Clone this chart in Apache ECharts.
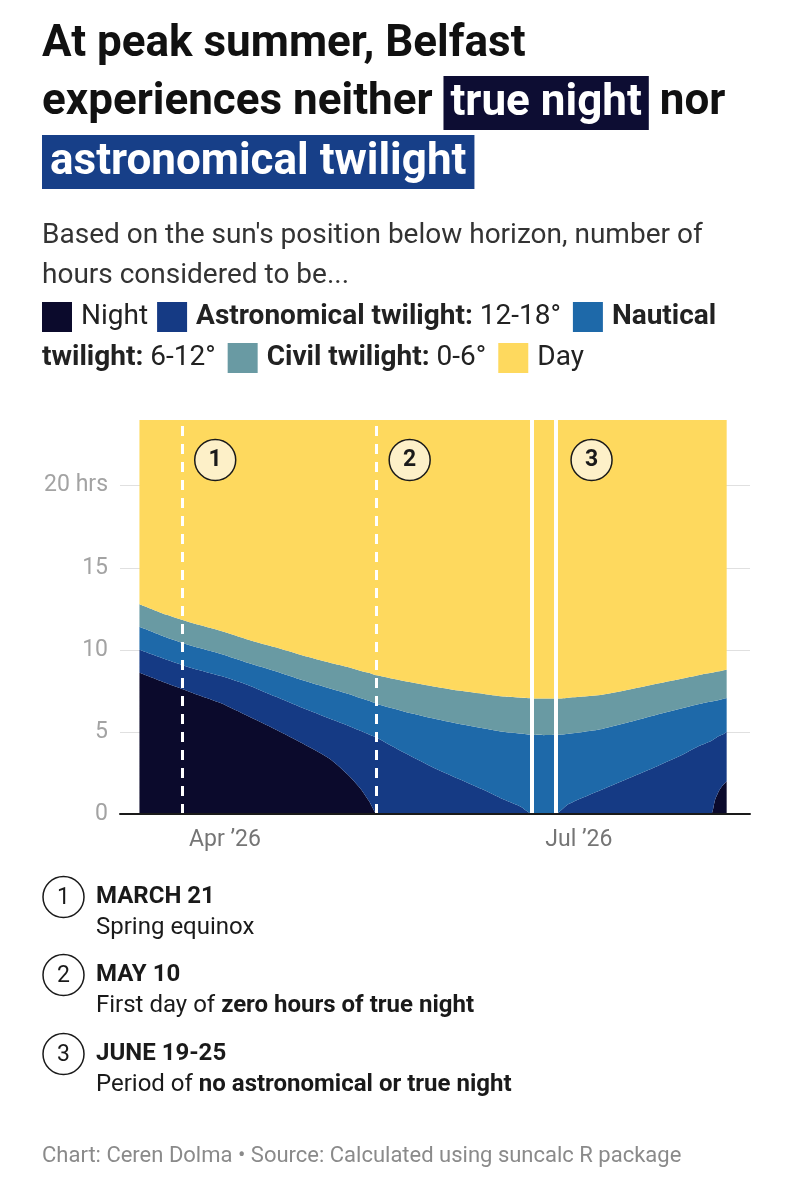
<!DOCTYPE html>
<html>
<head>
<meta charset="utf-8">
<script src="https://cdn.jsdelivr.net/npm/echarts@6/dist/echarts.min.js"></script>
<style>
html, body { margin: 0; padding: 0; background: #fff; }
#chart { width: 790px; height: 1200px; }
</style>
</head>
<body>
<div id="chart"></div>
<script>
// hours per day in each band (Belfast, 2026)
var dates = ['2026-03-10','2026-03-17','2026-03-24','2026-03-31','2026-04-07','2026-04-14','2026-04-21','2026-04-28',
  '2026-05-03','2026-05-06','2026-05-08','2026-05-09','2026-05-10','2026-05-17','2026-05-24','2026-05-31',
  '2026-06-07','2026-06-12','2026-06-16','2026-06-19','2026-06-22','2026-06-25','2026-06-28','2026-07-02',
  '2026-07-07','2026-07-14','2026-07-21','2026-07-28','2026-08-01','2026-08-04','2026-08-05','2026-08-06',
  '2026-08-07','2026-08-08'];
var night = [8.6, 7.96, 7.34, 6.74, 5.95, 5.15, 4.3, 3.35, 2.3, 1.5, 0.8, 0.35, 0,
  0, 0, 0, 0, 0, 0, 0, 0, 0, 0, 0, 0, 0, 0, 0, 0, 0,
  0.85, 1.4, 1.75, 2.0];
var astronomical = [1.4, 1.44, 1.51, 1.66, 1.9, 2.0, 2.15, 2.45, 3.05, 3.55, 4.05, 4.4, 4.65,
  3.75, 2.9, 2.15, 1.42, 0.85, 0.45, 0, 0, 0, 0.55, 1.0, 1.5, 2.2, 2.9, 3.65, 4.15, 4.45,
  3.75, 3.35, 3.1, 3.0];
var nautical = [1.4, 1.35, 1.35, 1.35, 1.35, 1.55, 1.7, 1.85, 1.95, 2.0, 2.05, 2.05, 2.05,
  2.5, 2.95, 3.35, 3.78, 4.15, 4.45, 4.82, 4.8, 4.82, 4.33, 4.0, 3.68, 3.4, 3.15, 2.82, 2.55, 2.4,
  2.3, 2.2, 2.15, 2.06];
var civil = [1.38, 1.38, 1.4, 1.4, 1.42, 1.45, 1.5, 1.56, 1.62, 1.66, 1.7, 1.72, 1.75,
  1.85, 1.95, 2.02, 2.1, 2.15, 2.18, 2.22, 2.23, 2.21, 2.19, 2.15, 2.08, 1.98, 1.88, 1.8, 1.77, 1.75,
  1.75, 1.74, 1.74, 1.73];
var day = [11.22, 11.87, 12.4, 12.85, 13.38, 13.85, 14.35, 14.79, 15.08, 15.29, 15.4, 15.48, 15.55,
  15.9, 16.2, 16.48, 16.7, 16.85, 16.92, 16.96, 16.97, 16.97, 16.93, 16.85, 16.74, 16.42, 16.07, 15.73, 15.53, 15.4,
  15.35, 15.31, 15.26, 15.21];

var yTicks = [0, 5, 10, 15, 20];
var eventDates = ['2026-03-21', '2026-05-10', '2026-06-19', '2026-06-25'];
var notes = [
  { num: '1', head: 'MARCH 21', text: 'Spring equinox' },
  { num: '2', head: 'MAY 10', text: 'First day of {b|zero hours of true night}' },
  { num: '3', head: 'JUNE 19-25', text: 'Period of {b|no astronomical or true night}' }
];

var FONT = 'Roboto, "Noto Sans", sans-serif';
var colors = {
  night: '#0b0a2c',
  astro: '#153a84',
  naut: '#1e69a9',
  civil: '#699aa3',
  day: '#fed95e'
};

function pairs(arr) {
  return dates.map(function (d, i) { return [d, arr[i]]; });
}

function band(name, arr, color) {
  return {
    name: name,
    type: 'line',
    stack: 'hrs',
    data: pairs(arr),
    symbol: 'none',
    smooth: 0.2,
    lineStyle: { width: 0 },
    areaStyle: { color: color, opacity: 1 },
    itemStyle: { color: color },
    silent: true
  };
}

var chart = echarts.init(document.getElementById('chart'));

var dayBand = band('Day', day, colors.day);
dayBand.markLine = {
  silent: true,
  symbol: ['none', 'none'],
  label: { show: false },
  data: [
    { xAxis: eventDates[0], lineStyle: { color: '#fff', width: 3, type: [10, 8] } },
    { xAxis: eventDates[1], lineStyle: { color: '#fff', width: 3, type: [10, 8] } },
    { xAxis: eventDates[2], lineStyle: { color: '#fff', width: 4, type: 'solid' } },
    { xAxis: eventDates[3], lineStyle: { color: '#fff', width: 4, type: 'solid' } }
  ]
};
dayBand.markPoint = {
  silent: true,
  symbol: 'circle',
  symbolSize: 41,
  itemStyle: { color: '#fdf0c8', borderColor: '#1a1a1a', borderWidth: 1.5 },
  label: { show: true, formatter: '{b}', color: '#1a1a1a', fontSize: 23, fontWeight: 'bold', fontFamily: FONT },
  data: [
    { name: '1', coord: [eventDates[0], 21.56], symbolOffset: [33, 0] },
    { name: '2', coord: [eventDates[1], 21.56], symbolOffset: [33, 0] },
    { name: '3', coord: [eventDates[3], 21.56], symbolOffset: [36, 0] }
  ]
};

// header + legend + notes as graphic text
var TITLE = 'bold 44px ' + FONT;
var g = [];
g.push({ type: 'text', style: { x: 42, y: 45, text: 'At peak summer, Belfast', font: TITLE, fill: '#111', verticalAlign: 'middle' } });
g.push({ type: 'text', style: {
  x: 42, y: 103, verticalAlign: 'middle', font: TITLE, fill: '#111',
  text: 'experiences neither {hn|true night} nor',
  rich: { hn: { backgroundColor: '#0d0d33', fill: '#fff', font: TITLE, padding: [6, 7, 4, 7] } }
} });
g.push({ type: 'text', style: {
  x: 42, y: 162, verticalAlign: 'middle', font: TITLE, fill: '#111',
  text: '{ha|astronomical twilight}',
  rich: { ha: { backgroundColor: '#173f88', fill: '#fff', font: TITLE, padding: [6, 8, 4, 8] } }
} });

g.push({ type: 'text', style: { x: 42, y: 236, verticalAlign: 'middle', font: '28px ' + FONT, fill: '#333',
  text: "Based on the sun's position below horizon, number of" } });
g.push({ type: 'text', style: { x: 42, y: 276, verticalAlign: 'middle', font: '28px ' + FONT, fill: '#333',
  text: 'hours considered to be...' } });

var legendRich = {
  s0: { width: 30, height: 30, backgroundColor: colors.night },
  s1: { width: 30, height: 30, backgroundColor: colors.astro },
  s2: { width: 30, height: 30, backgroundColor: colors.naut },
  s3: { width: 30, height: 30, backgroundColor: colors.civil },
  s4: { width: 30, height: 30, backgroundColor: colors.day },
  g: { width: 9 },
  g2: { width: 12 },
  b: { font: 'bold 28px ' + FONT, fill: '#222' },
  r: { font: '28px ' + FONT, fill: '#222' }
};
g.push({ type: 'text', style: { x: 42, y: 317, verticalAlign: 'middle', font: '28px ' + FONT, fill: '#222', rich: legendRich,
  text: '{s0| }{g| }{r|Night}{g| }{s1| }{g| }{b|Astronomical twilight:}{r| 12-18°}{g2| }{s2| }{g| }{b|Nautical}' } });
g.push({ type: 'text', style: { x: 42, y: 358, verticalAlign: 'middle', font: '28px ' + FONT, fill: '#222', rich: legendRich,
  text: '{b|twilight:}{r| 6-12°}{g2| }{s3| }{g| }{b|Civil twilight:}{r| 0-6°}{g2| }{s4| }{g| }{r|Day}' } });

var noteY = [897, 975, 1054];
notes.forEach(function (n, i) {
  var cy = noteY[i];
  g.push({ type: 'circle', shape: { cx: 63.5, cy: cy, r: 20.5 }, style: { fill: '#fff', stroke: '#1a1a1a', lineWidth: 1.5 } });
  g.push({ type: 'text', style: { x: 63.5, y: cy + 1, align: 'center', verticalAlign: 'middle', text: n.num, font: '23px ' + FONT, fill: '#1a1a1a' } });
  g.push({ type: 'text', style: { x: 96, y: cy, verticalAlign: 'middle', text: n.head, font: 'bold 24px ' + FONT, fill: '#1a1a1a' } });
  g.push({ type: 'text', style: { x: 96, y: cy + 31, verticalAlign: 'middle', text: n.text, font: '24px ' + FONT, fill: '#1a1a1a',
    rich: { b: { font: 'bold 24px ' + FONT, fill: '#1a1a1a' } } } });
});

g.push({ type: 'text', style: { x: 42, y: 1156, verticalAlign: 'middle', font: '22px ' + FONT, fill: '#8a8a8a',
  text: 'Chart: Ceren Dolma \u2022 Source: Calculated using suncalc R package' } });

var option = {
  backgroundColor: '#fff',
  animation: false,
  grid: { left: 120, right: 40, top: 420, bottom: 386, containLabel: false },
  xAxis: {
    type: 'time',
    min: '2026-03-05',
    max: '2026-08-14',
    maxInterval: 31 * 24 * 3600 * 1000,
    z: 10,
    axisLine: { show: true, lineStyle: { color: '#1a1a1a', width: 2 } },
    axisTick: { show: false },
    splitLine: { show: false },
    axisLabel: {
      color: '#757575',
      fontSize: 23,
      fontFamily: FONT,
      margin: 15,
      formatter: function (val) {
        var d = new Date(val);
        if (d.getDate() !== 1) return '';
        if (d.getMonth() === 3) return 'Apr \u201926';
        if (d.getMonth() === 6) return 'Jul \u201926';
        return '';
      }
    }
  },
  yAxis: {
    type: 'value',
    min: 0,
    max: 24,
    interval: 5,
    axisLine: { show: false },
    axisTick: { show: false },
    splitLine: { show: true, showMaxLine: false, lineStyle: { color: '#e0e0e0', width: 1 } },
    axisLabel: {
      color: '#a3a3a3',
      fontSize: 23,
      fontFamily: FONT,
      margin: 12,
      showMaxLabel: false,
      formatter: function (v) {
        if (yTicks.indexOf(v) < 0) return '';
        return v === 20 ? '20 hrs' : String(v);
      }
    }
  },
  series: [
    band('Night', night, colors.night),
    band('Astronomical twilight', astronomical, colors.astro),
    band('Nautical twilight', nautical, colors.naut),
    band('Civil twilight', civil, colors.civil),
    dayBand
  ],
  graphic: g
};

chart.setOption(option);
</script>
</body>
</html>
